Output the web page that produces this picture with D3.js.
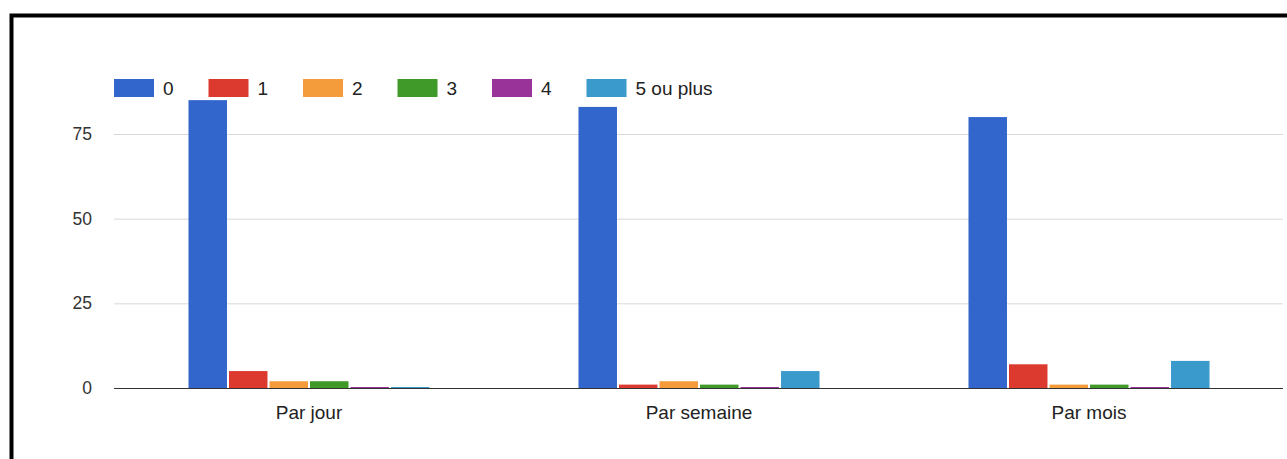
<!DOCTYPE html>
<html>
<head>
<meta charset="utf-8">
<script src="https://cdn.jsdelivr.net/npm/d3@7"></script>
<style>
body { margin: 0; background: #fff; }
svg { display: block; font-family: "Liberation Sans", Arial, sans-serif; }
</style>
</head>
<body>
<div id="chart"></div>
<script>
var categories = ["Par jour", "Par semaine", "Par mois"];
var series = ["0", "1", "2", "3", "4", "5 ou plus"];
var colors = ["#3366cc", "#dc3a2e", "#f49c3c", "#3f9a29", "#993399", "#3a9acb"];
var values = [
    [85, 5, 2, 2, 0, 0],
    [83, 1, 2, 1, 0, 5],
    [80, 7, 1, 1, 0, 8]
];
var yTicks = [0, 25, 50, 75];

var svgWidth = 1287;
var svgHeight = 459;

var svg = d3.select("#chart")
    .append("svg")
    .attr("width", svgWidth)
    .attr("height", svgHeight);

// frame
svg.append("rect")
    .attr("x", 11.5).attr("y", 15.5)
    .attr("width", 1300).attr("height", 500)
    .attr("fill", "none")
    .attr("stroke", "#000")
    .attr("stroke-width", 4);

var x0 = d3.scaleBand()
    .domain(categories)
    .range([114, 1284])
    .paddingInner(0.382)
    .paddingOuter(0.191);

var x1 = d3.scaleBand()
    .domain(series)
    .range([0, x0.bandwidth()])
    .paddingInner(0.05);

var y = d3.scaleLinear()
    .domain([0, 75])
    .range([388, 134]);

// gridlines
svg.append("g").selectAll("line")
    .data(yTicks.filter(d => d > 0))
    .enter()
    .append("line")
    .attr("x1", 114).attr("x2", 1283)
    .attr("y1", d => y(d) + 0.5).attr("y2", d => y(d) + 0.5)
    .attr("stroke", "#d9d9d9");

svg.append("g").selectAll("text")
    .data(yTicks)
    .enter()
    .append("text")
    .attr("x", 92)
    .attr("y", d => y(d))
    .attr("dy", "0.35em")
    .attr("text-anchor", "end")
    .attr("fill", "#333")
    .style("font-size", "17.5px")
    .text(d => d);

// bars
var groups = svg.append("g").selectAll("g")
    .data(values)
    .enter()
    .append("g")
    .attr("transform", (d, i) => `translate(${x0(categories[i])},0)`);

groups.selectAll("rect")
    .data(d => d)
    .enter()
    .append("rect")
    .attr("x", (d, i) => x1(series[i]))
    .attr("width", x1.bandwidth())
    .attr("y", d => Math.min(y(d), y(0) - 1))
    .attr("height", d => Math.max(y(0) - y(d), 1))
    .attr("fill", (d, i) => colors[i]);

// baseline
svg.append("line")
    .attr("x1", 114).attr("x2", 1283)
    .attr("y1", y(0) + 0.5).attr("y2", y(0) + 0.5)
    .attr("stroke", "#333");

// category labels
svg.append("g").selectAll("text")
    .data(categories)
    .enter()
    .append("text")
    .attr("x", d => x0(d) + x0.bandwidth() / 2)
    .attr("y", 419)
    .attr("text-anchor", "middle")
    .attr("fill", "#222")
    .style("font-size", "19px")
    .text(d => d);

// legend
var legend = svg.append("g").selectAll("g")
    .data(series)
    .enter()
    .append("g")
    .attr("transform", (d, i) => `translate(${114 + i * 94.5},79)`);

legend.append("rect")
    .attr("width", 40)
    .attr("height", 18)
    .attr("fill", (d, i) => colors[i]);

legend.append("text")
    .attr("x", 49)
    .attr("y", 9)
    .attr("dy", "0.35em")
    .attr("fill", "#222")
    .style("font-size", "19px")
    .text(d => d);
</script>
</body>
</html>
